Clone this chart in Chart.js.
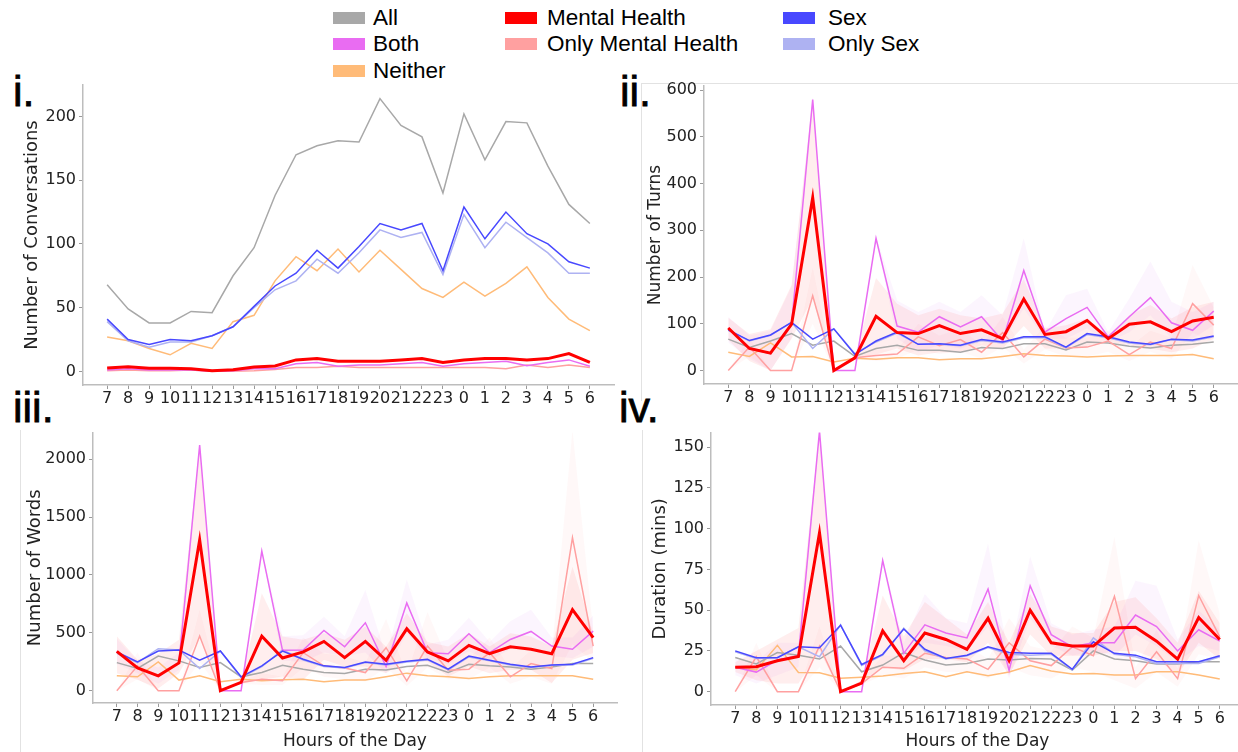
<!DOCTYPE html>
<html>
<head>
<meta charset="utf-8">
<script src="https://cdn.jsdelivr.net/npm/chart.js@4.4.0/dist/chart.umd.min.js"></script>
<style>
  body { margin: 0; width: 1238px; height: 752px; overflow: hidden; background: #fff; position: relative; }
  canvas { position: absolute; }
  .tag { position: absolute; font-family: "Liberation Sans", Arial; font-size: 43px; color: #000; line-height: 1; -webkit-text-stroke: 0.8px #000; }
  .leg { position: absolute; font-family: "Liberation Sans", Arial; font-size: 22.5px; color: #000; line-height: 24px; white-space: nowrap; }
  .sw { position: absolute; width: 32px; height: 12px; }
  .frame { position: absolute; background: #e2e2e2; }
</style>
</head>
<body>

<div id="legend"></div>

<div class="tag" style="left:13px; top:70px;">i.</div>
<div class="tag" style="left:620px; top:70px;">ii.</div>
<div class="tag" style="left:13px; top:386px;">iii.</div>
<div class="tag" style="left:619px; top:386px;">iv.</div>

<div class="frame" style="left:641px; top:83px; width:597px; height:1px;"></div>
<div class="frame" style="left:641px; top:83px; width:1px; height:318px;"></div>
<div class="frame" style="left:20px; top:430px; width:1px; height:322px;"></div>
<div class="frame" style="left:642px; top:430px; width:1px; height:322px;"></div>

<canvas id="conv" width="620" height="345" style="left:0; top:70px;"></canvas>
<canvas id="turns" width="618" height="345" style="left:620px; top:70px;"></canvas>
<canvas id="words" width="620" height="332" style="left:0; top:420px;"></canvas>
<canvas id="dur" width="630" height="332" style="left:620px; top:420px;"></canvas>

<script>
// x categories
const hours = ['7','8','9','10','11','12','13','14','15','16','17','18','19','20','21','22','23','0','1','2','3','4','5','6'];

// ---- i. Number of Conversations ----
const convAll = [68,49,38,38,47,46,75,97,138,170,177,181,180,214,193,184,140,202,166,196,195,161,131,116];
const convMH = [2.6,3.6,2.4,2.4,2,0.5,1.3,3.4,4.2,9,10,8,8,8,9,10,7,9,10,10,9,10,14,7];
const convSex = [41,25,21,25,24,28,35,51,67,77,95,81,98,116,111,116,79,129,104,125,108,100,86,81];
const convBoth = [1,2,1,1,1,0,0.5,2,2,6,7,4,5,5,6,7,4,6,7,8,4.5,7,9,4];
const convOnlyMH = [0.5,1,0.5,0.5,1,0,0,0.5,1.5,3,3,4,3,3,3,3,3,3,3,2,5,3,5,3];
const convOnlySex = [39,24,19,23,23,28,35,50,64,71,88,77,93,111,105,109,76,123,97,117,105,93,77,77];
const convNeither = [27,24,18,13,22,18,39,44,71,90,79,96,78,95,80,65,58,70,59,69,82,58,41,32];

// ---- ii. Number of Turns ----
const turnsAll = [67,49,63,79,54,63,30,47,54,43,43,39,49,47,57,57,44,61,59,52,48,54,56,61];
const turnsMH = [91,47,37,99,370,0,27,116,81,79,96,79,87,68,153,77,83,107,68,99,104,83,106,114];
const turnsSex = [87,64,76,103,67,89,34,63,82,56,57,54,66,61,72,72,50,79,72,61,56,67,65,74];
const turnsBoth = [91,47,36,100,580,0,0,283,95,82,115,93,115,63,214,82,111,135,72,115,156,102,86,127];
const turnsOnlyMH = [0,50,0,0,160,0,27,32,35,72,53,66,39,81,29,67,48,50,63,34,61,47,143,97];
const turnsOnlySex = [86,63,75,103,47,89,36,61,80,56,56,53,64,59,70,70,49,77,70,59,55,66,63,72];
const turnsNeither = [39,30,59,29,30,18,26,24,27,27,23,25,25,30,36,32,31,29,31,32,32,32,34,25];
const turnsMHLo = [65,20,0,68,155,0,25,34,47,32,39,39,54,47,95,47,47,50,61,54,47,39,47,68];
const turnsMHHi = [113,78,88,183,580,2,30,198,143,118,132,118,111,122,195,90,97,111,75,118,140,111,136,147];
const turnsBothLo = [60,25,0,70,575,0,0,280,68,39,54,47,61,61,132,68,68,90,61,82,118,68,68,97];
const turnsBothHi = [115,75,85,180,585,0,0,286,150,125,147,125,161,118,283,82,161,175,82,154,233,147,125,147];
const turnsOnlyMHLo = [0,30,0,0,100,0,25,20,25,45,35,40,25,50,15,45,30,30,40,20,40,25,80,60];
const turnsOnlyMHHi = [0,70,0,0,220,0,30,45,45,100,75,90,55,115,45,95,70,70,85,50,85,70,226,135];

// ---- iii. Number of Words ----
const wordsAll = [243,192,300,258,200,243,120,157,220,186,157,149,186,180,209,220,157,229,215,206,186,206,235,235];
const wordsMH = [340,197,129,240,1302,0,72,472,283,335,426,286,426,263,535,335,258,392,320,380,358,320,701,458];
const wordsSex = [335,249,343,352,263,343,120,215,343,272,215,200,249,229,255,272,186,300,263,229,206,223,229,286];
const wordsBoth = [340,197,123,243,2123,0,0,1207,349,352,521,380,587,209,758,329,320,492,329,443,512,386,358,515];
const wordsOnlyMH = [0,215,0,0,472,0,72,100,86,329,215,197,157,372,86,386,177,186,329,120,235,192,1322,386];
const wordsOnlySex = [323,243,363,352,192,343,114,209,352,266,209,197,243,223,249,266,180,292,258,223,200,220,223,280];
const wordsNeither = [129,120,249,92,129,77,100,86,94,100,77,92,92,120,152,129,120,106,120,129,129,129,129,100];
const wordsMHLo = [150,95,20,152,468,0,60,95,124,95,267,210,210,150,267,250,124,210,152,181,181,66,267,325];
const wordsMHHi = [470,267,320,440,2120,0,80,842,468,440,497,440,555,380,670,420,382,497,382,497,468,382,1072,497];
const wordsBothLo = [230,150,60,180,2110,0,0,1200,260,250,330,300,330,150,500,280,230,340,260,360,380,300,280,380];
const wordsBothHi = [450,260,200,330,2130,0,0,1210,470,480,640,470,870,300,960,400,440,630,420,600,700,460,460,650];
const wordsOnlyMHLo = [0,100,0,0,250,0,60,50,50,200,120,100,80,200,40,200,100,100,200,60,120,60,400,250];
const wordsOnlyMHHi = [0,330,0,0,700,0,80,150,120,460,320,300,240,620,140,680,260,280,460,190,350,330,2250,520];

// ---- iv. Duration (mins) ----
const durAll = [21,17,24,22.4,20,28,12.2,16.3,24,19.4,16.3,17.3,20,19.4,20.4,20,13.3,25,20,19,17,17,18.4,18.4];
const durMH = [15,15.3,19,21.6,97.5,0,5.2,37.3,19,36,32,26,45,19,50,30,28,28,39,39.5,31,20,45.5,32];
const durSex = [25,20.8,20.8,27.5,27,40.8,16.7,22.9,38.4,26,20.4,22.4,27.5,24,23.5,23.5,13.7,30.6,23.5,22.4,18.4,18.4,18.4,22];
const durBoth = [15,12,19.4,22,160,0,0,80.6,23.5,41,36,33,63,13,65,35,27.5,30,30,47,40,25,38,31];
const durOnlyMH = [0,21.4,0,0,28,0,5,15,14.3,23.5,21,20,13.7,30,19,16,27.5,22,58.5,8,24.5,8,59,33.6];
const durOnlySex = [24.5,20.4,21,27.5,21.4,41,16,22.4,39,25,20,22,27,23,22.4,23,13.3,33,23,21.4,17.3,17.3,17.3,21.4];
const durNeither = [15,13.3,28.4,11.8,11.6,8.2,8.8,9.6,11.2,12.2,9.2,12.2,9.8,12,16,12.7,10.8,11.2,10.2,10.2,12.2,12.2,10.2,7.8];
const durMHLo = [12,7,5,5,25,0,4,15,13,20,20,18,30,10,35,22,22,22,25,25,20,10,30,20];
const durMHHi = [18,25,32,39,160,0,7,59,34,55,45,35,55,30,60,40,36,36,55,58,45,30,62,42];
const durBothLo = [10,5,10,15,158,0,0,78,18,30,28,25,40,8,45,28,22,25,22,35,28,18,28,25];
const durBothHi = [20,18,30,30,160,0,0,82,30,60,45,42,91,20,83,42,35,38,40,68,65,32,50,38];
const durOnlyMHLo = [0,10,0,0,15,0,4,10,8,15,12,12,8,15,10,8,15,12,7,2,12,3,23,20];
const durOnlyMHHi = [0,30,0,0,40,0,7,22,22,33,30,28,20,45,28,25,40,33,95,15,38,14,93,48];

// y tick labels for each panel
const convTicks = [0, 50, 100, 150, 200];
const turnsTicks = [0, 100, 200, 300, 400, 500, 600];
const wordsTicks = [0, 500, 1000, 1500, 2000];
const durTicks = [0, 25, 50, 75, 100, 125, 150];

// colours
const colors = {
  'All': '#a8a8a8',
  'Both': '#e96cf2',
  'Neither': '#ffbb78',
  'Mental Health': '#ff0000',
  'Only Mental Health': '#ffa0a0',
  'Sex': '#4848ff',
  'Only Sex': '#aeb2f2'
};

// legend (three columns like the figure)
const legendItems = [
  ['All', 333, 373, 18], ['Both', 333, 373, 44], ['Neither', 333, 373, 71],
  ['Mental Health', 505, 547, 18], ['Only Mental Health', 505, 547, 44],
  ['Sex', 783, 828, 18], ['Only Sex', 783, 828, 44]
];
const legend = document.getElementById('legend');
legendItems.forEach(([name, sx, tx, cy]) => {
  legend.innerHTML += `<div class="sw" style="left:${sx}px; top:${cy - 6}px; background:${colors[name]}"></div>` +
    `<div class="leg" style="left:${tx}px; top:${cy - 12}px;">${name}</div>`;
});

const pts = arr => arr.map((y, i) => ({ x: i, y }));

function line(name, data, width) {
  return { label: name, data: pts(data), borderColor: colors[name], borderWidth: width,
    pointRadius: 0, tension: 0, fill: false };
}
function band(lo, hi, bg) {
  return [
    { data: pts(hi), borderWidth: 0, pointRadius: 0, fill: '+1', backgroundColor: bg },
    { data: pts(lo), borderWidth: 0, pointRadius: 0, fill: false }
  ];
}

const tickFont = { family: 'DejaVu Sans', size: 16 };

// box = sizes that pin the plot area to where it sits in the figure
function makePanel(id, datasets, yMin, yMax, yTicks, yTitle, xTitle, box) {
  new Chart(document.getElementById(id), {
    type: 'line',
    data: { datasets },
    options: {
      responsive: false,
      animation: false,
      devicePixelRatio: 1,
      layout: { padding: { left: 0, top: box.top, right: box.right, bottom: 0 } },
      plugins: { legend: { display: false }, tooltip: { enabled: false } },
      scales: {
        x: {
          type: 'linear', min: -1.15, max: 24.15, bounds: 'data',
          afterBuildTicks: s => { s.ticks = hours.map((h, i) => ({ value: i })); },
          afterFit: s => { s.height = box.xH; },
          ticks: { callback: v => hours[v], autoSkip: false, maxRotation: 0, font: tickFont, color: '#222', padding: 0 },
          grid: { drawOnChartArea: false, drawTicks: true, tickLength: 4, color: '#999' },
          border: { color: '#bdbdbd', width: 1.5 },
          title: { display: !!xTitle, text: xTitle, font: { family: 'DejaVu Sans', size: 17 }, color: '#222', padding: { top: 0, bottom: box.xPad } }
        },
        y: {
          min: yMin, max: yMax, bounds: 'data',
          afterBuildTicks: s => { s.ticks = yTicks.map(v => ({ value: v })); },
          afterFit: s => { s.width = box.yW; },
          ticks: { callback: v => String(v), font: tickFont, color: '#222', padding: 3 },
          grid: { drawOnChartArea: false, drawTicks: true, tickLength: 4, color: '#999' },
          border: { color: '#bdbdbd', width: 1.5 },
          title: { display: true, text: yTitle, font: { family: 'DejaVu Sans', size: box.yFont }, color: '#222', padding: { top: box.yPad, bottom: 0 } }
        }
      }
    }
  });
}

function seriesSet(all, mh, sex, both, onlyMH, onlySex, neither) {
  return [
    line('Mental Health', mh, 3),
    line('Sex', sex, 1.5),
    line('Both', both, 1.5),
    line('Only Sex', onlySex, 1.5),
    line('Only Mental Health', onlyMH, 1.5),
    line('All', all, 1.5),
    line('Neither', neither, 1.5)
  ];
}

makePanel('conv',
  seriesSet(convAll, convMH, convSex, convBoth, convOnlyMH, convOnlySex, convNeither),
  -10.7, 224.7, convTicks, 'Number of Conversations', '',
  { top: 15, right: 6, xH: 30, yW: 83, yPad: 22, yFont: 18, xPad: 0 });

makePanel('turns',
  seriesSet(turnsAll, turnsMH, turnsSex, turnsBoth, turnsOnlyMH, turnsOnlySex, turnsNeither)
    .concat(band(turnsMHLo, turnsMHHi, 'rgba(255,40,40,0.08)'))
    .concat(band(turnsBothLo, turnsBothHi, 'rgba(215,110,245,0.07)'))
    .concat(band(turnsOnlyMHLo, turnsOnlyMHHi, 'rgba(255,110,110,0.05)')),
  -29, 609, turnsTicks, 'Number of Turns', '',
  { top: 16, right: 0, xH: 31, yW: 84, yPad: 25, yFont: 17, xPad: 0 });

makePanel('words',
  seriesSet(wordsAll, wordsMH, wordsSex, wordsBoth, wordsOnlyMH, wordsOnlySex, wordsNeither)
    .concat(band(wordsMHLo, wordsMHHi, 'rgba(255,40,40,0.08)'))
    .concat(band(wordsBothLo, wordsBothHi, 'rgba(215,110,245,0.07)'))
    .concat(band(wordsOnlyMHLo, wordsOnlyMHHi, 'rgba(255,110,110,0.05)')),
  -106, 2230, wordsTicks, 'Number of Words', 'Hours of the Day',
  { top: 12, right: 3, xH: 49, yW: 93, yPad: 25, yFont: 18, xPad: 0 });

makePanel('dur',
  seriesSet(durAll, durMH, durSex, durBoth, durOnlyMH, durOnlySex, durNeither)
    .concat(band(durMHLo, durMHHi, 'rgba(255,40,40,0.08)'))
    .concat(band(durBothLo, durBothHi, 'rgba(215,110,245,0.07)'))
    .concat(band(durOnlyMHLo, durOnlyMHHi, 'rgba(255,110,110,0.05)')),
  -8.2, 159, durTicks, 'Duration (mins)', 'Hours of the Day',
  { top: 12, right: 6, xH: 47, yW: 91, yPad: 30, yFont: 18, xPad: 0 });
</script>
</body>
</html>
